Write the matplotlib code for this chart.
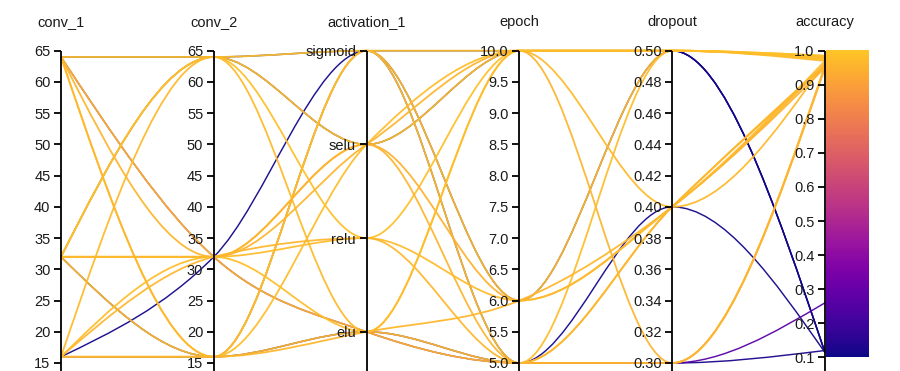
import numpy as np
import matplotlib
matplotlib.use("Agg")
import matplotlib.pyplot as plt
from matplotlib.path import Path
from matplotlib.patches import PathPatch
from matplotlib.colors import ListedColormap, Normalize

# ---------------- data ----------------
dimensions = ["conv_1", "conv_2", "activation_1", "epoch", "dropout", "accuracy"]
activation_categories = ["sigmoid", "selu", "relu", "elu"]

conv_1 = [64, 16, 32, 32, 16, 64, 64, 16, 32, 32, 16, 64, 32, 16, 64, 64, 32, 32, 32, 64, 16, 16]
conv_2 = [64, 32, 16, 64, 16, 32, 64, 16, 16, 64, 16, 32, 64, 64, 16, 16, 32, 32, 32, 32, 32, 32]
activation_1 = ["sigmoid", "sigmoid", "sigmoid", "selu", "elu", "elu",
                "sigmoid", "sigmoid", "sigmoid", "selu", "elu", "elu",
                "relu", "elu", "selu", "elu", "selu", "selu", "relu", "selu", "relu", "elu"]
epoch = [10, 5, 6, 10, 5, 5, 10, 5, 6, 10, 5, 5, 10, 10, 10, 6, 10, 6, 6, 5, 5, 10]
dropout = [0.5, 0.4, 0.5, 0.5, 0.3, 0.3, 0.5, 0.5, 0.5, 0.5, 0.3, 0.3,
           0.5, 0.4, 0.5, 0.4, 0.3, 0.4, 0.4, 0.4, 0.4, 0.5]
accuracy = [0.114, 0.114, 0.114, 0.114, 0.12, 0.26, 0.985, 0.975, 0.97, 0.98, 0.955, 0.95,
            0.985, 0.965, 0.975, 0.96, 0.955, 0.95, 0.97, 0.955, 0.96, 0.98]

conv_ticks = [15, 20, 25, 30, 35, 40, 45, 50, 55, 60, 65]
epoch_ticks = [5.0, 5.5, 6.0, 6.5, 7.0, 7.5, 8.0, 8.5, 9.0, 9.5, 10.0]
dropout_ticks = [0.30, 0.32, 0.34, 0.36, 0.38, 0.40, 0.42, 0.44, 0.46, 0.48, 0.50]
accuracy_ticks = [0.1, 0.2, 0.3, 0.4, 0.5, 0.6, 0.7, 0.8, 0.9, 1.0]

# ---------------- layout (pixels) ----------------
W, H = 900, 371
X0, DX = 61.0, 152.8          # first axis x, spacing
Y_TOP, Y_BOT = 50.7, 363.0    # pixel rows of normalized 1 and 0
SPAN = Y_BOT - Y_TOP
TICK = 7.0
PAD = 3.5

def px_x(p):
    return (p - X0) / DX

def px_y(p):
    return (Y_BOT - p) / SPAN

ACC_LO = px_y(357.3)
cat_pos = {c: px_y(Y_TOP + i * 93.7) for i, c in enumerate(activation_categories)}

def lin(v, d0, d1, r0=0.0, r1=1.0):
    return r0 + (np.asarray(v, float) - d0) / (d1 - d0) * (r1 - r0)

scales = {
    "conv_1": lambda v: lin(v, 15, 65),
    "conv_2": lambda v: lin(v, 15, 65),
    "activation_1": lambda v: np.array([cat_pos[c] for c in np.atleast_1d(v)]),
    "epoch": lambda v: lin(v, 5, 10),
    "dropout": lambda v: lin(v, 0.3, 0.5),
    "accuracy": lambda v: lin(v, 0.1, 1.0, ACC_LO, 1.0),
}
columns = {"conv_1": conv_1, "conv_2": conv_2, "activation_1": activation_1,
           "epoch": epoch, "dropout": dropout, "accuracy": accuracy}

def monotone_path(xs, ys):
    xs = np.asarray(xs, float); ys = np.asarray(ys, float)
    n = len(xs)
    h = np.diff(xs); s = np.diff(ys) / h
    t = np.zeros(n)
    for i in range(1, n - 1):
        s0, s1, h0, h1 = s[i - 1], s[i], h[i - 1], h[i]
        p = (s0 * h1 + s1 * h0) / (h0 + h1)
        t[i] = (np.sign(s0) + np.sign(s1)) * min(abs(s0), abs(s1), 0.5 * abs(p))
    t[0] = (3 * s[0] - t[1]) / 2
    t[-1] = (3 * s[-1] - t[-2]) / 2
    verts = [(xs[0], ys[0])]
    codes = [Path.MOVETO]
    for i in range(n - 1):
        dx = xs[i + 1] - xs[i]
        verts += [(xs[i] + dx / 3, ys[i] + dx / 3 * t[i]),
                  (xs[i + 1] - dx / 3, ys[i + 1] - dx / 3 * t[i + 1]),
                  (xs[i + 1], ys[i + 1])]
        codes += [Path.CURVE4] * 3
    return Path(verts, codes)

plasma = plt.get_cmap("plasma")
cmap = ListedColormap(plasma(np.linspace(0.0, 0.88, 256)))
norm = Normalize(0.1, 1.0)

fig = plt.figure(figsize=(W / 100, H / 100), dpi=100)
ax = fig.add_axes([0, 0, 1, 1])
ax.set_xlim(px_x(0), px_x(W))
ax.set_ylim(px_y(H), px_y(0))
ax.axis("off")

FONT = dict(family=["Liberation Sans", "DejaVu Sans"], fontsize=10.5, color="#1a1a1a")

# polylines (low-accuracy runs are drawn first and slightly thinner)
xs = np.arange(len(dimensions))
n_rows = len(accuracy)
for r in range(n_rows):
    ys = [float(scales[d]([columns[d][r]])[0]) for d in dimensions]
    col = cmap(norm(accuracy[r]))
    low = accuracy[r] < 0.5
    ax.add_patch(PathPatch(monotone_path(xs, ys), fill=False, edgecolor=col,
                           lw=1.05 if low else 1.3, alpha=0.95, zorder=2))

# colorbar
grad = np.linspace(0.1, 1.0, 256).reshape(-1, 1)
xa = len(dimensions) - 1
ax.imshow(grad, cmap=cmap, norm=norm, origin="lower", aspect="auto",
          extent=(xa + 1.0 / DX, xa + 44.0 / DX, ACC_LO, 1.0), zorder=1)

# axes
tick_sets = {
    "conv_1": (conv_ticks, [str(t) for t in conv_ticks]),
    "conv_2": (conv_ticks, [str(t) for t in conv_ticks]),
    "activation_1": (activation_categories, activation_categories),
    "epoch": (epoch_ticks, [f"{t:.1f}" for t in epoch_ticks]),
    "dropout": (dropout_ticks, [f"{t:.2f}" for t in dropout_ticks]),
    "accuracy": (accuracy_ticks, [f"{t:.1f}" for t in accuracy_ticks]),
}
for i, d in enumerate(dimensions):
    ax.plot([i, i], [1.0, px_y(H + 5)], color="black", lw=1.3, zorder=4,
            solid_capstyle="butt")
    vals, labels = tick_sets[d]
    pos = scales[d](vals)
    for yv, lab in zip(pos, labels):
        ax.plot([i - TICK / DX, i], [yv, yv], color="black", lw=1.3, zorder=4,
                solid_capstyle="butt")
        ax.text(i - (TICK + PAD) / DX, yv, lab, ha="right", va="center_baseline",
                zorder=5, **FONT)
    ax.text(i, px_y(22), d, ha="center", va="center", zorder=5, **FONT)

fig.savefig("out.png", dpi=100)
